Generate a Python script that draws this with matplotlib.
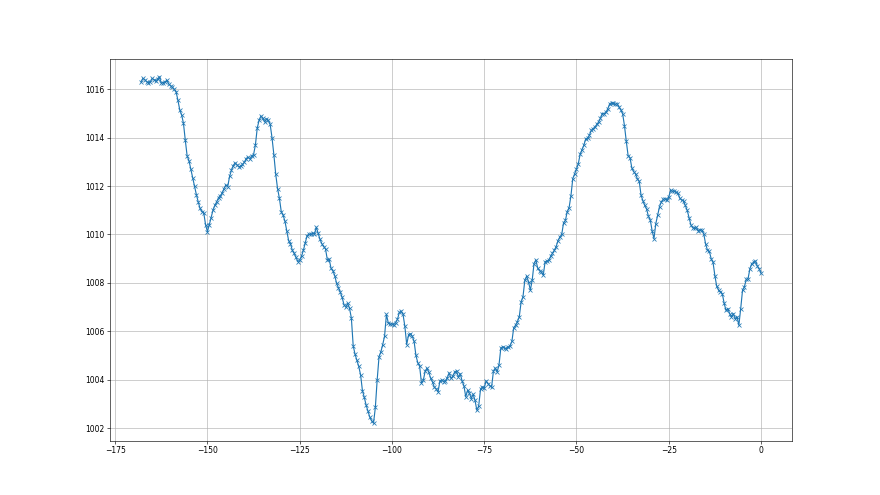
import numpy as np
import matplotlib
matplotlib.use("Agg")
import matplotlib.pyplot as plt

# hours relative to now (half-hour steps)
hours = np.arange(-336, 1) / 2.0

pressure = [
    1016.30, 1016.45, 1016.40, 1016.32, 1016.28, 1016.30, 1016.45, 1016.40, 1016.35, 1016.42,
    1016.52, 1016.25, 1016.28, 1016.30, 1016.38, 1016.22, 1016.15, 1016.08, 1016.00, 1015.90,
    1015.55, 1015.15, 1014.95, 1014.60, 1013.90, 1013.25, 1013.05, 1012.70, 1012.35, 1012.00,
    1011.65, 1011.35, 1011.08, 1010.95, 1010.90, 1010.40, 1010.12, 1010.40, 1010.70, 1011.00,
    1011.20, 1011.35, 1011.52, 1011.60, 1011.72, 1011.90, 1012.05, 1011.98, 1012.40, 1012.65,
    1012.85, 1012.96, 1012.88, 1012.80, 1012.82, 1012.90, 1012.98, 1013.14, 1013.20, 1013.12,
    1013.25, 1013.30, 1013.70, 1014.40, 1014.72, 1014.90, 1014.80, 1014.65, 1014.78, 1014.72,
    1014.55, 1014.00, 1013.30, 1012.50, 1011.90, 1011.50, 1010.95, 1010.80, 1010.55, 1010.15,
    1009.75, 1009.62, 1009.35, 1009.22, 1009.05, 1008.88, 1008.95, 1009.10, 1009.35, 1009.65,
    1009.95, 1010.02, 1010.00, 1010.05, 1010.02, 1010.30, 1010.05, 1009.80, 1009.62, 1009.50,
    1009.40, 1008.95, 1008.97, 1008.60, 1008.50, 1008.30, 1007.98, 1007.80, 1007.62, 1007.40,
    1007.10, 1007.00, 1007.15, 1006.95, 1006.55, 1005.40, 1005.05, 1004.80, 1004.55, 1004.20,
    1003.55, 1003.27, 1002.95, 1002.70, 1002.45, 1002.30, 1002.20, 1002.85, 1004.00, 1004.95,
    1005.15, 1005.45, 1005.80, 1006.70, 1006.35, 1006.30, 1006.30, 1006.28, 1006.35, 1006.50,
    1006.78, 1006.82, 1006.70, 1006.20, 1005.45, 1005.85, 1005.90, 1005.80, 1005.58, 1005.00,
    1004.70, 1004.55, 1003.85, 1003.98, 1004.35, 1004.48, 1004.30, 1004.05, 1003.90, 1003.68,
    1003.62, 1003.50, 1003.95, 1003.98, 1003.92, 1003.96, 1004.08, 1004.28, 1004.05, 1004.15,
    1004.32, 1004.36, 1004.10, 1004.25, 1003.95, 1003.75, 1003.29, 1003.57, 1003.43, 1003.22,
    1003.40, 1003.15, 1002.74, 1002.91, 1003.60, 1003.70, 1003.65, 1003.95, 1003.84, 1003.75,
    1003.70, 1004.35, 1004.48, 1004.32, 1004.60, 1005.30, 1005.36, 1005.30, 1005.28, 1005.35,
    1005.40, 1005.58, 1006.15, 1006.25, 1006.40, 1006.60, 1007.21, 1007.42, 1008.10, 1008.28,
    1008.05, 1007.70, 1008.11, 1008.80, 1008.95, 1008.60, 1008.50, 1008.45, 1008.32, 1008.87,
    1008.90, 1008.94, 1009.10, 1009.22, 1009.35, 1009.50, 1009.75, 1009.90, 1010.00, 1010.48,
    1010.58, 1010.95, 1011.11, 1011.60, 1012.31, 1012.50, 1012.70, 1012.93, 1013.32, 1013.50,
    1013.69, 1013.95, 1013.98, 1014.10, 1014.30, 1014.38, 1014.44, 1014.55, 1014.65, 1014.80,
    1015.00, 1014.98, 1015.05, 1015.20, 1015.40, 1015.44, 1015.42, 1015.38, 1015.41, 1015.27,
    1015.15, 1015.00, 1014.50, 1013.85, 1013.25, 1013.18, 1012.75, 1012.60, 1012.50, 1012.30,
    1012.20, 1011.62, 1011.40, 1011.20, 1011.05, 1010.75, 1010.60, 1010.15, 1009.83, 1010.45,
    1010.80, 1011.15, 1011.35, 1011.45, 1011.48, 1011.42, 1011.55, 1011.83, 1011.78, 1011.80,
    1011.74, 1011.70, 1011.50, 1011.42, 1011.39, 1011.20, 1011.00, 1010.70, 1010.40, 1010.28,
    1010.25, 1010.29, 1010.15, 1010.20, 1010.18, 1010.02, 1009.60, 1009.35, 1009.30, 1009.00,
    1008.85, 1008.30, 1007.86, 1007.70, 1007.63, 1007.56, 1007.17, 1006.87, 1006.94, 1006.73,
    1006.60, 1006.73, 1006.52, 1006.60, 1006.25, 1006.94, 1007.70, 1007.84, 1008.14, 1008.18,
    1008.59, 1008.80, 1008.85, 1008.90, 1008.70, 1008.59, 1008.40,
]

fig, ax = plt.subplots(figsize=(16, 9), dpi=55)
ax.plot(hours, pressure, marker="x", color="#1f77b4")
ax.grid(True)
fig.savefig("out.png", dpi=55)
